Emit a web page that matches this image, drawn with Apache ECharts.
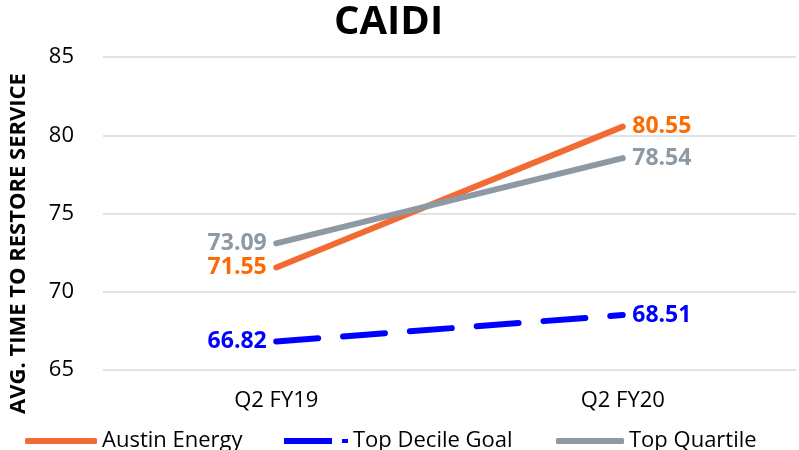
<!DOCTYPE html>
<html>
<head>
<meta charset="utf-8">
<script src="https://cdn.jsdelivr.net/npm/echarts@6/dist/echarts.min.js"></script>
<style>
  html, body { margin:0; padding:0; background:#fff; }
  #main { width:799px; height:450px; }
</style>
</head>
<body>
<div id="main"></div>
<script>
var categories = ['Q2 FY19', 'Q2 FY20'];
var austinEnergy = [71.55, 80.55];
var topDecileGoal = [66.82, 68.51];
var topQuartile = [73.09, 78.54];

var fontFam = '"Open Sans", "Liberation Sans", sans-serif';

// first point labelled on the left, second on the right
function pointsWithLabels(vals){
  return vals.map(function(v, i){
    return { value: v, label: { position: i === 0 ? 'left' : 'right' } };
  });
}

function seriesLabel(color){
  return {
    show: true,
    fontSize: 23,
    fontWeight: 'bold',
    fontFamily: fontFam,
    color: color,
    distance: 9,
    formatter: function(p){ return p.value.toFixed(2); }
  };
}

function legendAt(left, name, w, icon, color){
  return {
    left: left,
    top: 425,
    itemWidth: w,
    itemHeight: 6,
    itemGap: 0,
    textStyle: { fontSize: 22, color: '#000', fontFamily: fontFam },
    data: [{ name: name, icon: icon, itemStyle: { color: color, opacity: 1, borderWidth: 0 } }]
  };
}

var chart = echarts.init(document.getElementById('main'));

chart.setOption({
  animation: false,
  title: {
    text: 'CAIDI',
    left: 329,
    top: -2,
    textStyle: { fontSize: 40, fontWeight: 'bold', color: '#000', fontFamily: fontFam }
  },
  grid: { left: 96, right: 3, top: 57, bottom: 80 },
  legend: [
    legendAt(20, 'Austin Energy', 72, 'roundRect', '#F26B35'),
    legendAt(279, 'Top Decile Goal', 64, 'path://M0,0H48V6H0Z M58,1H64V5H58Z', '#0000FF'),
    legendAt(551, 'Top Quartile', 68, 'roundRect', '#8D99A3')
  ],
  xAxis: {
    type: 'category',
    data: categories,
    boundaryGap: true,
    axisLine: { show: false },
    axisTick: { show: false },
    axisLabel: { fontSize: 22, color: '#000', fontFamily: fontFam, margin: 20 }
  },
  yAxis: {
    type: 'value',
    min: 65,
    max: 85,
    interval: 5,
    name: 'AVG. TIME TO RESTORE SERVICE',
    nameLocation: 'middle',
    nameGap: 73,
    nameTextStyle: { fontSize: 22, fontWeight: 'bold', color: '#000', fontFamily: fontFam, padding: [0, 60, 0, 0] },
    axisLine: { show: false },
    axisTick: { show: false },
    axisLabel: { fontSize: 22, color: '#000', fontFamily: fontFam, margin: 29 },
    splitLine: { lineStyle: { color: '#d9d9d9', width: 1.5 } }
  },
  series: [
    {
      name: 'Austin Energy',
      type: 'line',
      data: pointsWithLabels(austinEnergy),
      symbol: 'circle',
      symbolSize: 1,
      itemStyle: { color: 'rgba(0,0,0,0)' },
      lineStyle: { width: 6, color: '#F26B35', cap: 'round' },
      label: seriesLabel('#FF6A00')
    },
    {
      name: 'Top Decile Goal',
      type: 'line',
      data: pointsWithLabels(topDecileGoal),
      symbol: 'circle',
      symbolSize: 1,
      itemStyle: { color: 'rgba(0,0,0,0)' },
      lineStyle: { width: 6, color: '#0000FF', type: [42, 25], cap: 'round' },
      label: seriesLabel('#0000FF')
    },
    {
      name: 'Top Quartile',
      type: 'line',
      data: pointsWithLabels(topQuartile),
      symbol: 'circle',
      symbolSize: 1,
      itemStyle: { color: 'rgba(0,0,0,0)' },
      lineStyle: { width: 6, color: '#8D99A3', cap: 'round' },
      label: seriesLabel('#8D99A3')
    }
  ]
});
</script>
</body>
</html>
